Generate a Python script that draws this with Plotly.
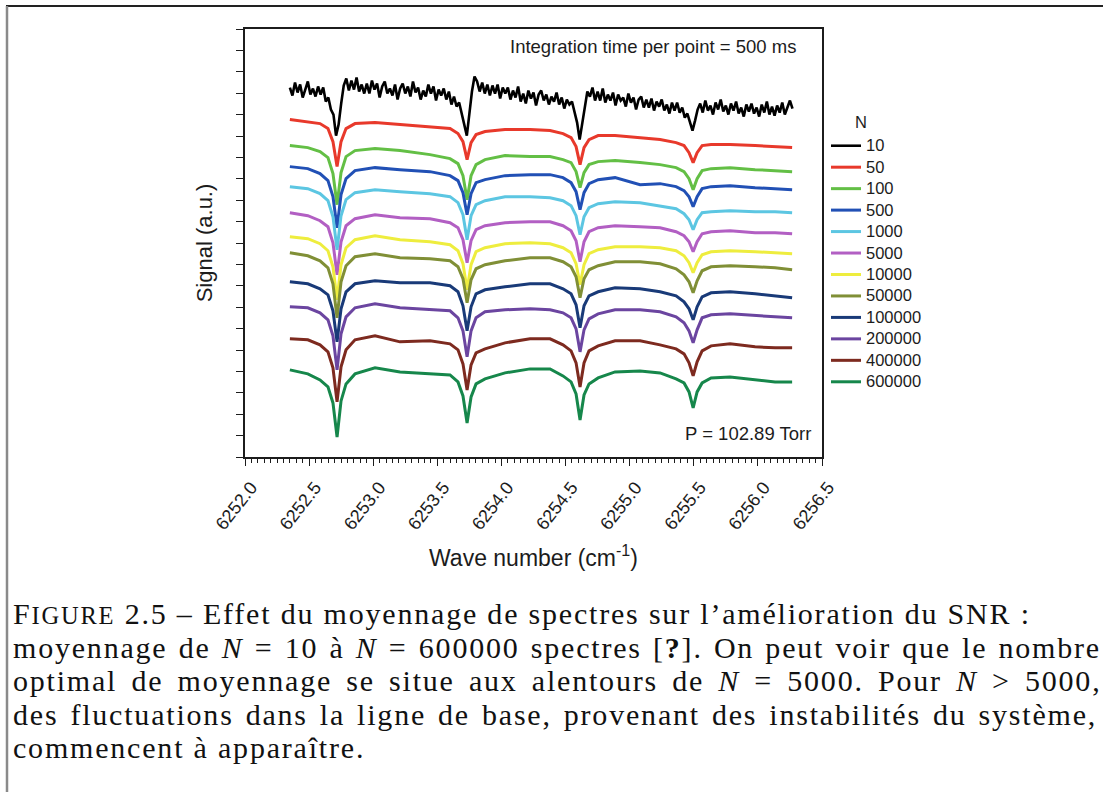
import plotly.graph_objects as go

# ---------------- data ----------------
N_labels = ["10", "50", "100", "500", "1000", "5000", "10000", "50000",
            "100000", "200000", "400000", "600000"]
colors = ["#000000", "#e8392b", "#63bf45", "#2150b5", "#5cc6e2", "#b25fc3",
          "#eeed3e", "#808f36", "#193a78", "#6b45a0", "#7d2a1f", "#16874b"]

# wavenumber samples (cm-1) of the N = 10 spectrum
wn10 = [6252.35, 6252.37, 6252.39, 6252.41, 6252.43, 6252.45, 6252.47, 6252.49, 6252.51, 6252.53,
        6252.55, 6252.57, 6252.59, 6252.61, 6252.63, 6252.65, 6252.67, 6252.69, 6252.71, 6252.73,
        6252.75, 6252.77, 6252.79, 6252.81, 6252.83, 6252.85, 6252.87, 6252.89, 6252.91, 6252.93,
        6252.95, 6252.97, 6252.99, 6253.01, 6253.03, 6253.05, 6253.07, 6253.09, 6253.11, 6253.13,
        6253.15, 6253.17, 6253.19, 6253.21, 6253.23, 6253.25, 6253.27, 6253.29, 6253.31, 6253.33,
        6253.35, 6253.37, 6253.39, 6253.41, 6253.43, 6253.45, 6253.47, 6253.49, 6253.51, 6253.53,
        6253.55, 6253.57, 6253.59, 6253.61, 6253.63, 6253.65, 6253.67, 6253.69, 6253.71, 6253.73,
        6253.75, 6253.77, 6253.79, 6253.81, 6253.83, 6253.85, 6253.87, 6253.89, 6253.91, 6253.93,
        6253.95, 6253.97, 6253.99, 6254.01, 6254.03, 6254.05, 6254.07, 6254.09, 6254.11, 6254.13,
        6254.15, 6254.17, 6254.19, 6254.21, 6254.23, 6254.25, 6254.27, 6254.29, 6254.31, 6254.33,
        6254.35, 6254.37, 6254.39, 6254.41, 6254.43, 6254.45, 6254.47, 6254.49, 6254.51, 6254.53,
        6254.55, 6254.57, 6254.59, 6254.61, 6254.63, 6254.65, 6254.67, 6254.69, 6254.71, 6254.73,
        6254.75, 6254.77, 6254.79, 6254.81, 6254.83, 6254.85, 6254.87, 6254.89, 6254.91, 6254.93,
        6254.95, 6254.97, 6254.99, 6255.01, 6255.03, 6255.05, 6255.07, 6255.09, 6255.11, 6255.13,
        6255.15, 6255.17, 6255.19, 6255.21, 6255.23, 6255.25, 6255.27, 6255.29, 6255.31, 6255.33,
        6255.35, 6255.37, 6255.39, 6255.41, 6255.43, 6255.45, 6255.47, 6255.49, 6255.51, 6255.53,
        6255.55, 6255.57, 6255.59, 6255.61, 6255.63, 6255.65, 6255.67, 6255.69, 6255.71, 6255.73,
        6255.75, 6255.77, 6255.79, 6255.81, 6255.83, 6255.85, 6255.87, 6255.89, 6255.91, 6255.93,
        6255.95, 6255.97, 6255.99, 6256.01, 6256.03, 6256.05, 6256.07, 6256.09, 6256.11, 6256.13,
        6256.15, 6256.17, 6256.19, 6256.21, 6256.23, 6256.25, 6256.27]
s10 = [36.9, 36.1, 37.4, 36.4, 37.2, 35.9, 36.7, 37.5, 36.2, 36.8,
       36.0, 37.0, 36.2, 36.9, 35.5, 35.9, 34.7, 34.2, 32.1, 33.2,
       35.3, 37.1, 37.8, 36.6, 37.6, 36.7, 37.9, 36.5, 37.2, 36.3,
       37.3, 36.3, 37.6, 36.7, 37.3, 35.9, 37.0, 37.5, 36.3, 36.8,
       36.1, 37.2, 35.7, 36.8, 37.3, 36.3, 37.0, 36.0, 37.5, 36.4,
       36.9, 35.7, 36.6, 36.0, 37.2, 36.3, 37.0, 35.6, 36.7, 36.1,
       36.8, 35.7, 36.5, 35.2, 36.0, 35.0, 35.4, 34.2, 33.3, 32.1,
       34.3, 36.5, 38.0, 37.5, 36.5, 37.4, 36.3, 37.2, 36.1, 37.1,
       36.3, 37.2, 35.8, 36.9, 36.3, 36.9, 35.7, 36.6, 35.9, 37.0,
       35.5, 36.3, 35.3, 36.6, 35.8, 36.4, 35.1, 36.2, 36.6, 35.6,
       36.2, 35.2, 36.0, 35.5, 36.4, 35.2, 35.9, 34.8, 35.7, 35.2,
       35.5, 34.5, 33.4, 31.7, 33.3, 35.3, 36.5, 36.0, 36.9, 35.6,
       36.5, 35.6, 36.8, 35.4, 36.2, 35.6, 36.4, 35.1, 36.2, 35.6,
       35.9, 35.0, 36.3, 35.4, 35.9, 34.7, 35.7, 36.0, 34.9, 35.7,
       34.9, 35.8, 34.6, 35.5, 35.0, 35.7, 34.6, 35.2, 34.3, 35.4,
       34.6, 35.4, 34.4, 34.9, 33.9, 34.3, 33.5, 32.6, 33.6, 34.7,
       35.3, 34.4, 35.6, 34.6, 35.1, 34.2, 35.4, 34.7, 35.7, 34.5,
       35.1, 34.2, 35.3, 34.6, 35.5, 34.3, 34.9, 34.0, 35.2, 34.5,
       35.3, 34.3, 34.9, 34.0, 35.2, 34.4, 35.5, 34.2, 35.0, 34.1,
       35.1, 34.4, 35.4, 34.2, 34.9, 35.6, 34.8]

# wavenumber samples (cm-1) of the averaged spectra N >= 50
wn = [6252.350, 6252.490, 6252.585, 6252.647, 6252.686, 6252.718, 6252.749, 6252.788, 6252.858,
      6253.014, 6253.209, 6253.443, 6253.599, 6253.661, 6253.700, 6253.732, 6253.763, 6253.802,
      6253.872, 6254.028, 6254.223, 6254.379, 6254.480, 6254.543, 6254.582, 6254.613, 6254.644,
      6254.683, 6254.754, 6254.886, 6255.081, 6255.237, 6255.362, 6255.424, 6255.463, 6255.495,
      6255.526, 6255.565, 6255.635, 6255.783, 6255.978, 6256.134, 6256.267]
s50 = [33.7, 33.5, 33.3, 32.8, 31.5, 29.0, 31.5, 32.8, 33.3, 33.4, 33.2, 33.0, 32.8, 32.3, 31.5,
       29.7, 31.4, 32.2, 32.5, 32.7, 32.7, 32.6, 32.3, 31.9, 31.0, 29.2, 30.9, 31.7, 32.1, 32.1,
       31.9, 31.7, 31.4, 31.1, 30.4, 29.4, 30.4, 31.1, 31.2, 31.2, 31.1, 31.0, 30.9]
s100 = [31.1, 30.9, 30.5, 29.9, 28.3, 25.2, 28.4, 30.0, 30.6, 30.8, 30.6, 30.2, 29.8, 29.3, 28.1,
        25.7, 28.1, 29.2, 29.7, 30.1, 30.0, 30.0, 29.7, 29.4, 28.5, 26.9, 28.4, 29.2, 29.5, 29.6,
        29.4, 29.2, 28.9, 28.5, 27.8, 26.7, 27.8, 28.6, 28.8, 28.9, 28.7, 28.6, 28.5]
s500 = [29.0, 28.8, 28.3, 27.6, 26.0, 22.9, 26.2, 27.8, 28.6, 28.9, 28.7, 28.5, 28.1, 27.6, 26.4,
        24.2, 26.3, 27.4, 27.7, 28.1, 28.2, 28.2, 27.9, 27.4, 26.5, 24.7, 26.4, 27.3, 27.7, 27.9,
        27.2, 27.3, 27.0, 26.6, 26.0, 25.0, 26.0, 26.8, 27.0, 27.1, 26.9, 26.8, 26.7]
s1000 = [27.0, 26.8, 26.3, 25.6, 24.0, 20.7, 24.1, 25.7, 26.4, 26.7, 26.5, 26.3, 26.0, 25.4, 24.2,
         21.7, 24.1, 25.2, 25.6, 26.0, 26.0, 25.9, 25.6, 25.1, 24.1, 22.2, 24.0, 24.9, 25.3, 25.5,
         25.4, 25.1, 24.8, 24.3, 23.7, 22.7, 23.7, 24.4, 24.5, 24.6, 24.5, 24.5, 24.4]
s5000 = [24.4, 24.1, 23.6, 23.0, 21.4, 18.2, 21.5, 23.1, 23.8, 24.2, 23.9, 23.8, 23.4, 22.9, 21.7,
         19.4, 21.6, 22.7, 23.1, 23.4, 23.5, 23.5, 23.1, 22.6, 21.6, 19.5, 21.5, 22.5, 22.9, 23.1,
         23.0, 22.9, 22.5, 22.1, 21.5, 20.5, 21.5, 22.3, 22.5, 22.6, 22.4, 22.4, 22.3]
s10000 = [22.0, 21.8, 21.3, 20.6, 19.0, 15.7, 19.2, 20.9, 21.7, 22.1, 21.7, 21.5, 21.2, 20.6, 19.3,
          16.7, 19.2, 20.5, 20.9, 21.3, 21.4, 21.3, 20.9, 20.4, 19.3, 17.2, 19.2, 20.3, 20.7, 21.0,
          21.0, 20.9, 20.6, 20.1, 19.4, 18.4, 19.4, 20.2, 20.5, 20.6, 20.5, 20.4, 20.3]
s50000 = [20.4, 20.1, 19.6, 18.9, 17.3, 13.9, 17.5, 19.1, 20.0, 20.3, 19.9, 19.8, 19.6, 19.0, 17.8,
          15.4, 17.7, 18.8, 19.2, 19.6, 19.9, 19.9, 19.5, 19.0, 18.0, 15.9, 17.8, 18.7, 19.1, 19.5,
          19.5, 19.3, 18.8, 18.2, 17.5, 16.4, 17.6, 18.6, 19.0, 19.1, 19.0, 18.9, 18.7]
s100000 = [17.5, 17.3, 16.8, 16.2, 14.6, 11.5, 14.8, 16.5, 17.3, 17.6, 17.4, 17.4, 17.1, 16.5, 15.1,
           12.6, 15.0, 16.3, 16.7, 17.0, 17.3, 17.3, 16.8, 16.3, 15.2, 12.9, 15.1, 16.1, 16.5, 16.9,
           16.8, 16.5, 16.1, 15.5, 14.8, 13.7, 15.0, 16.0, 16.4, 16.5, 16.3, 16.1, 15.9]
s200000 = [15.0, 14.9, 14.4, 13.7, 12.1, 8.7, 12.3, 14.0, 14.9, 15.3, 14.9, 14.7, 14.6, 13.9, 12.6,
           10.0, 12.6, 13.9, 14.5, 14.7, 14.8, 14.7, 14.4, 13.9, 12.8, 10.5, 12.7, 13.8, 14.3, 14.7,
           14.7, 14.5, 14.0, 13.4, 12.6, 11.4, 12.7, 13.9, 14.2, 14.3, 14.1, 14.0, 13.9]
s400000 = [11.8, 11.7, 11.2, 10.5, 8.9, 5.5, 9.0, 10.7, 11.7, 12.1, 11.5, 11.6, 11.3, 10.7, 9.3,
           6.7, 9.2, 10.4, 10.8, 11.4, 11.8, 11.8, 11.2, 10.6, 9.4, 7.0, 9.4, 10.6, 11.1, 11.6,
           11.6, 11.2, 10.8, 10.3, 9.4, 8.1, 9.5, 10.6, 11.1, 11.3, 11.0, 10.9, 10.9]
s600000 = [8.7, 8.3, 7.7, 7.0, 5.4, 2.0, 5.6, 7.3, 8.3, 8.9, 8.5, 8.3, 8.2, 7.5, 6.1,
           3.4, 6.0, 7.3, 7.8, 8.4, 8.8, 8.8, 8.1, 7.5, 6.3, 3.7, 6.2, 7.3, 7.9, 8.5,
           8.6, 8.4, 7.8, 7.4, 6.5, 4.9, 6.5, 7.4, 7.9, 8.0, 7.7, 7.5, 7.5]

x_range = [6252.0, 6256.5]
x_ticks_step = 0.5
y_range = [0, 42.745]

# ---------------- figure ----------------
W_PX, H_PX = 1103, 792
L, R, T, B = 245, 281, 29, 335
PW, PH = W_PX - L - R, H_PX - T - B


def px(xp):
    return (xp - L) / PW


def py(yp):
    return (T + PH - yp) / PH


SANS = "Liberation Sans, Arial, sans-serif"
SERIF = "Liberation Serif, Times New Roman, serif"
INK = "#1c1c1c"

series = [s10, s50, s100, s500, s1000, s5000, s10000, s50000,
          s100000, s200000, s400000, s600000]
xs = [wn10] + [wn] * 11

fig = go.Figure()
for lab, col, xv, yv in zip(N_labels, colors, xs, series):
    fig.add_trace(go.Scatter(
        x=xv, y=yv, mode="lines",
        line=dict(color=col, width=3 if lab != "10" else 2.6),
        name='<span style="font-size:16.5px">%s</span>' % lab,
    ))

fig.update_layout(
    template="none",
    width=W_PX, height=H_PX,
    margin=dict(l=L, r=R, t=T, b=B, pad=0),
    paper_bgcolor="white", plot_bgcolor="white",
    font=dict(family=SANS, color=INK, size=18),
    showlegend=True,
    legend=dict(
        x=px(826), y=py(130), xanchor="left", yanchor="top",
        font=dict(size=14.2, family=SANS, color=INK),
        bgcolor="rgba(0,0,0,0)", borderwidth=0, itemwidth=30, tracegroupgap=0,
    ),
    xaxis=dict(
        range=x_range, tick0=x_range[0], dtick=x_ticks_step, tickformat=".1f",
        ticks="outside", ticklen=7, tickwidth=1.3, tickcolor=INK,
        showline=True, linecolor=INK, linewidth=1.6, mirror=True,
        showgrid=False, zeroline=False, tickangle=-52,
        ticklabelshift=6, ticklabelstandoff=4,
        tickfont=dict(size=18, family=SANS, color=INK),
        minor=dict(dtick=0.05, ticks="outside", ticklen=4, tickwidth=1, tickcolor=INK, showgrid=False),
        title=dict(text="Wave number (cm<sup>-1</sup>)", font=dict(size=23, family=SANS, color=INK), standoff=17),
        automargin=False,
    ),
    yaxis=dict(
        range=y_range, tick0=0, dtick=2.137,
        ticks="outside", ticklen=7, tickwidth=1.3, tickcolor=INK,
        showticklabels=False,
        showline=True, linecolor=INK, linewidth=1.6, mirror=True,
        showgrid=False, zeroline=False,
        title=dict(text="Signal (a.u.)", font=dict(size=22, family=SANS, color=INK), standoff=18),
        automargin=False,
    ),
)

# in-plot annotations
fig.add_annotation(text="Integration time per point = 500 ms", xref="paper", yref="paper",
                   x=px(798), y=py(46), xanchor="right", yanchor="middle", showarrow=False,
                   font=dict(size=18.5, family=SANS, color=INK))
fig.add_annotation(text="P = 102.89 Torr", xref="paper", yref="paper",
                   x=px(813), y=py(433), xanchor="right", yanchor="middle", showarrow=False,
                   font=dict(size=18.5, family=SANS, color=INK))
# legend heading
fig.add_annotation(text="N", xref="paper", yref="paper",
                   x=px(861), y=py(122), xanchor="center", yanchor="middle", showarrow=False,
                   font=dict(size=16.5, family=SANS, color=INK))

# page frame of the thesis figure
fig.add_shape(type="line", xref="paper", yref="paper", x0=px(6), x1=px(1103), y0=py(6), y1=py(6),
              line=dict(color="#222222", width=2))
fig.add_shape(type="line", xref="paper", yref="paper", x0=px(7), x1=px(7), y0=py(6), y1=py(792),
              line=dict(color="#8a8a8a", width=2.5))

# caption: one block; base size sets the line pitch, spans set glyph size and justification
CAP = "font-size:30px;letter-spacing:1.8px"
caption_lines = [
    '<span style="%s">F<span style="font-size:24.5px">IGURE</span> 2.5 – Effet du moyennage de spectres sur l’amélioration du SNR :</span>' % CAP,
    '<span style="%s;word-spacing:1.9px">moyennage de <i>N</i> = 10 à <i>N</i> = 600000 spectres [<b>?</b>]. On peut voir que le nombre</span>' % CAP,
    '<span style="%s;word-spacing:4.9px">optimal de moyennage se situe aux alentours de <i>N</i> = 5000. Pour <i>N</i> &gt; 5000,</span>' % CAP,
    '<span style="%s;word-spacing:2.7px">des fluctuations dans la ligne de base, provenant des instabilités du système,</span>' % CAP,
    '<span style="%s">commencent à apparaître.</span>' % CAP,
]
fig.add_annotation(text="<br>".join(caption_lines), xref="paper", yref="paper",
                   x=px(11), y=py(680), xanchor="left", yanchor="middle", showarrow=False,
                   align="left", font=dict(size=25.8, family=SERIF, color="#111111"))

fig.write_html("out.html")
